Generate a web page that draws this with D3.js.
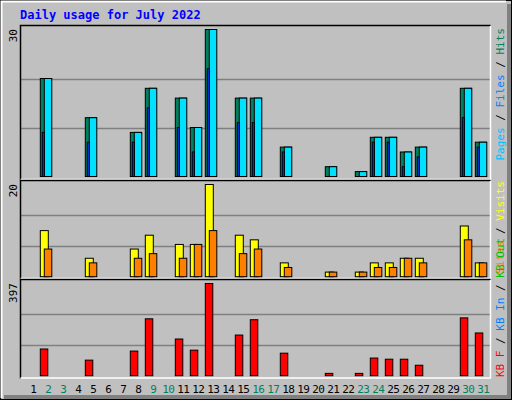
<!DOCTYPE html>
<html><head><meta charset="utf-8">
<script src="https://cdn.jsdelivr.net/npm/d3@7"></script>
<style>body{margin:0;background:#fff}svg{display:block;font-family:"DejaVu Sans Mono",monospace}</style>
</head><body><div id="chart"></div>
<script>
const days = d3.range(1, 32);
const weekends = [2, 3, 9, 10, 16, 17, 23, 24, 30, 31];
const hits  = [0,20,0,0,12,0,0,9,18,0,16,10,30,0,16,16,0,6,0,0,2,0,1,8,8,5,6,0,0,18,7];
const files = [0,20,0,0,12,0,0,9,18,0,16,10,30,0,16,16,0,6,0,0,2,0,1,8,8,5,6,0,0,18,7];
const pages = [0,9,0,0,7,0,0,7,14,0,10,5,22,0,11,11,0,5,0,0,0,0,0,7,7,2,4,0,0,12,6];
const visits = [0,10,0,0,4,0,0,6,9,0,7,7,20,0,9,8,0,3,0,0,1,0,1,3,3,4,4,0,0,11,3];
const sites  = [0,6,0,0,3,0,0,4,5,0,4,7,10,0,5,6,0,2,0,0,1,0,1,2,2,4,3,0,0,8,3];
const kbytes = [0,115,0,0,67,0,0,106,245,0,158,110,397,0,175,241,0,97,0,0,10,0,10,76,71,71,45,0,0,249,184];

const W = 512, H = 400;
const svg = d3.select("#chart").append("svg").attr("width", W).attr("height", H);

// frame
svg.append("rect").attr("width", W).attr("height", H).attr("fill", "#c0c0c0");
svg.append("rect").attr("x", 507).attr("y", 4).attr("width", 5).attr("height", 396).attr("fill", "#808080");
svg.append("rect").attr("x", 4).attr("y", 395).attr("width", 508).attr("height", 5).attr("fill", "#808080");
svg.append("rect").attr("x", 0.5).attr("y", 0.5).attr("width", 511).attr("height", 399).attr("fill", "none").attr("stroke", "#000");
svg.append("path").attr("d", "M1.5,398V1.5H506").attr("stroke", "#fff").attr("stroke-width", 2).attr("fill", "none");

svg.append("text").attr("x", 20).attr("y", 19).attr("fill", "#0000ff")
  .style("font-size", "12px").style("font-weight", "bold").text("Daily usage for July 2022");

const x = d3.scaleLinear().domain([1, 31]).range([25.3, 475.3]);

const panels = [
  { top: 25, bottom: 180, base: 176.5, max: 30, label: "30" },
  { top: 180, bottom: 279, base: 276.7, max: 20, label: "20" },
  { top: 279, bottom: 378.5, base: 375.7, max: 397, label: "397" }
];
panels.forEach(p => {
  p.y = d3.scaleLinear().domain([0, p.max]).range([p.base, p.top + 4.5]);
  svg.append("rect").attr("x", 20.5).attr("y", p.top + 0.5).attr("width", 470).attr("height", p.bottom - p.top - 1)
    .attr("fill", "#c0c0c0").attr("stroke", "none");
  [1 / 3, 2 / 3].forEach(f => {
    const gy = Math.round(p.y(p.max * f)) + 0.5;
    svg.append("line").attr("x1", 21).attr("x2", 490).attr("y1", gy).attr("y2", gy)
      .attr("stroke", "#808080").attr("stroke-width", 1.5);
  });
  svg.append("path").attr("d", `M20.5,${p.bottom}V${p.top + 0.5}H490.5`).attr("stroke", "#000").attr("fill", "none").attr("stroke-width", 1.5);
  svg.append("path").attr("d", `M490.5,${p.top + 1}V${p.bottom - 0.5}H20.5`).attr("stroke", "#fff").attr("fill", "none").attr("stroke-width", 1.5);
  svg.append("text").attr("transform", `translate(17,${p.top + 4}) rotate(-90)`).attr("text-anchor", "end")
    .style("font-size", "11px").attr("fill", "#000").text(p.label);
});

function bars(data, p, dx, w, color) {
  svg.append("g").selectAll("rect").data(days.filter((d, i) => data[i] > 0)).join("rect")
    .attr("x", d => x(d) + dx).attr("width", w)
    .attr("y", d => p.y(data[d - 1])).attr("height", d => p.base - p.y(data[d - 1]))
    .attr("fill", color).attr("stroke", "#000").attr("stroke-width", 1);
}
bars(hits, panels[0], 0, 11, "#00805c");
bars(files, panels[0], 4, 7.5, "#00e0ff");
bars(pages, panels[0], 2, 2, "#0040ff");
bars(visits, panels[1], 0, 8, "#ffff00");
bars(sites, panels[1], 4, 7.5, "#ff8000");
bars(kbytes, panels[2], 0, 7.5, "#ff0000");

// x labels
svg.append("g").selectAll("text").data(days).join("text")
  .attr("x", d => x(d) + 8).attr("y", 393).attr("text-anchor", "middle")
  .style("font-size", "11px").style("letter-spacing", "-0.5px")
  .attr("fill", d => weekends.includes(d) ? "#00805c" : "#000").text(d => d);

// legends
function legend(parts, y, anchor) {
  const t = svg.append("text").attr("transform", `translate(504,${y}) rotate(-90)`)
    .attr("text-anchor", anchor).style("font-size", "11px");
  parts.forEach(([s, c]) => t.append("tspan").attr("fill", c).text(s));
}
legend([["Pages", "#00c0ff"], [" / ", "#000"], ["Files", "#0080ff"], [" / ", "#000"], ["Hits", "#00805c"]], 28, "end");
legend([["Sites", "#ff8000"], [" / ", "#000"], ["Visits", "#ffff00"]], 181, "end");
legend([["KB F", "#ff0000"], [" / ", "#000"], ["KB In", "#0080ff"], [" / ", "#000"], ["KB Out", "#00c000"]], 377, "start");
</script></body></html>
